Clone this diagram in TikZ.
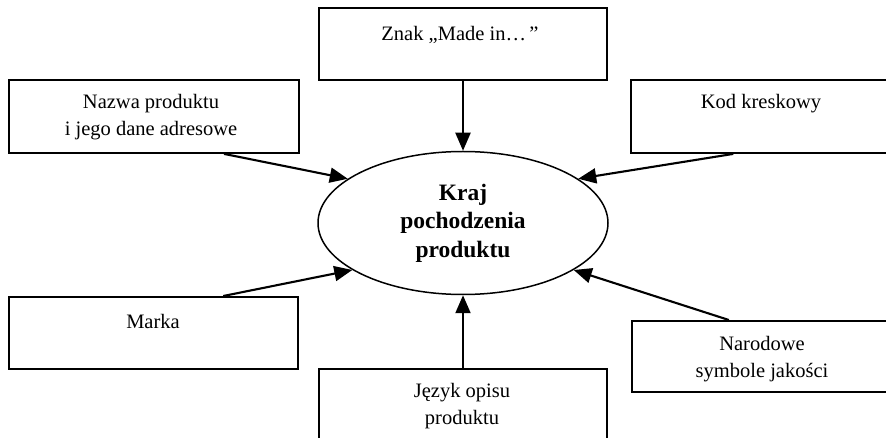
\documentclass[tikz,border=0pt]{standalone}
\usepackage{fontspec}
\setmainfont{Liberation Serif}
\usetikzlibrary{arrows.meta,shapes.geometric,calc}
\begin{document}
\begin{tikzpicture}[x=1pt,y=-1pt,
  boxnode/.style={draw,line width=1.9pt,minimum width=#1,inner sep=0pt,anchor=north west},
  boxtext/.style={align=center,inner sep=0pt,font=\fontsize{20.5}{27}\selectfont},
  conn/.style={line width=2.1pt,-{Triangle[length=18pt,width=15pt]}},
  hub/.style={ellipse,draw,line width=1.5pt,minimum width=290pt,minimum height=143pt,inner sep=0pt,align=center,font=\fontsize{23.5}{28.5}\selectfont\bfseries}]
\useasboundingbox (0,0) rectangle (886,438);
\clip (0,0) rectangle (886,438);
\fill[white] (0,0) rectangle (886,438);
% boxes
\node[boxnode=288pt,minimum height=72pt] (znak) at (318,7) {};
\node[boxnode=290pt,minimum height=73pt] (nazwa) at (8,79) {};
\node[boxnode=270pt,minimum height=73pt] (kod) at (630,79) {};
\node[boxnode=289pt,minimum height=72pt] (marka) at (8,296) {};
\node[boxnode=270pt,minimum height=71pt] (narod) at (631,320) {};
\node[boxnode=288pt,minimum height=90pt] (jezyk) at (318,368) {};
% texts
\node[boxtext] (tznak) at (460,35) {Znak „Made in…\,”};
\node[boxtext] (tnazwa) at (151,117) {Nazwa produktu\\i jego dane adresowe};
\node[boxtext] (tkod) at (761,104) {Kod kreskowy};
\node[boxtext] (tmarka) at (153,321) {Marka};
\node[boxtext] (tnarod) at (762,359) {Narodowe\\symbole jakości};
\node[boxtext] (tjezyk) at (462,406) {Język opisu\\produktu};
% hub
\node[hub] (hub) at (463,223) {Kraj\\pochodzenia\\produktu};
% connectors
\draw[conn] (znak.south -| hub.north) -- (hub.north);
\draw[conn] (jezyk.north -| hub.south) -- (hub.south);
\draw[conn] ($(nazwa.south west)!0.74!(nazwa.south east)$) -- (hub.159);
\draw[conn] ($(kod.south west)!0.38!(kod.south east)$) -- (hub.21);
\draw[conn] ($(marka.north west)!0.74!(marka.north east)$) -- (hub.203);
\draw[conn] ($(narod.north west)!0.36!(narod.north east)$) -- (hub.337);
\end{tikzpicture}
\end{document}
